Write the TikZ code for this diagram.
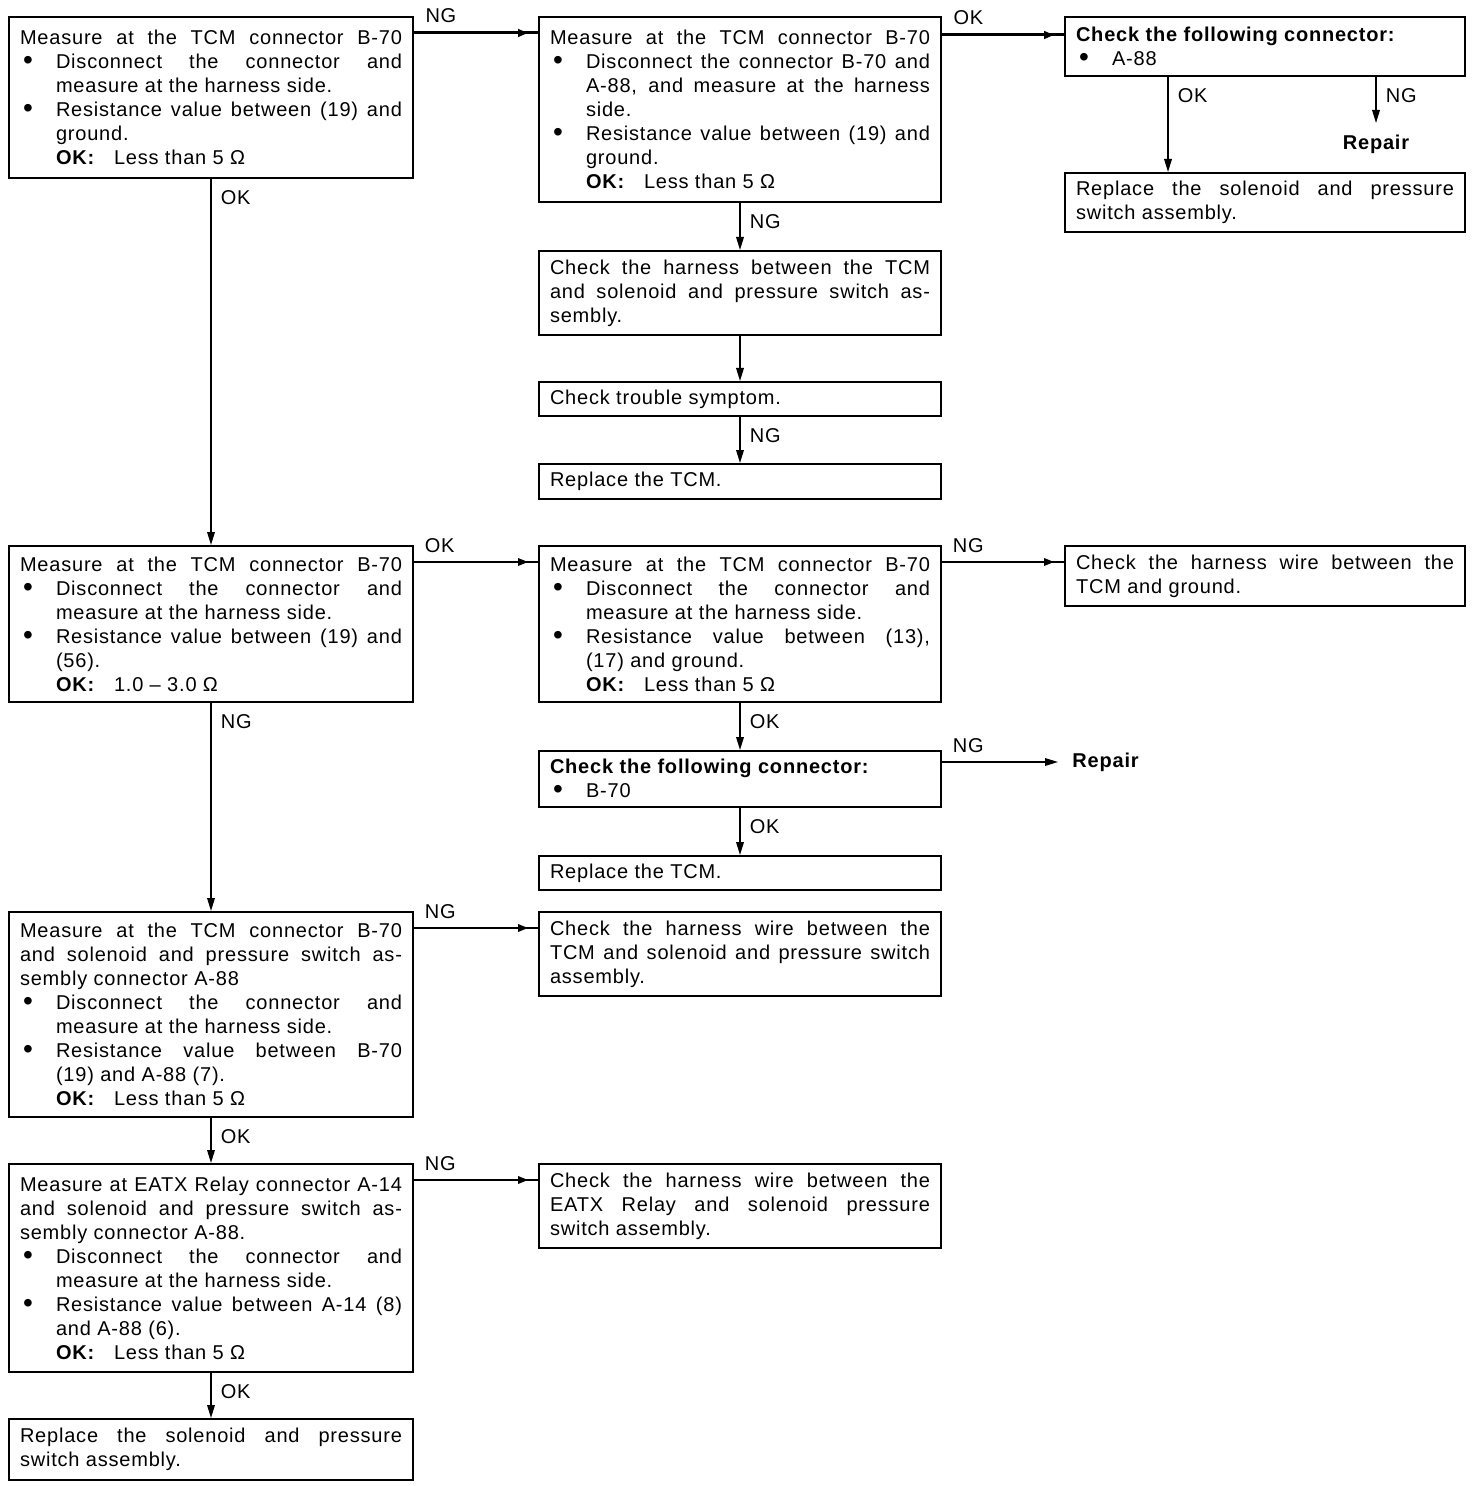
\documentclass[tikz,border=0pt]{standalone}
\usepackage{fontspec}
\setmainfont{Liberation Sans}[LetterSpace=4]
\usetikzlibrary{arrows.meta,decorations.markings}
% line helpers for the box texts
\newcommand{\full}[1]{\makebox[\hsize][s]{#1}}
\newcommand{\dotitem}{\makebox[18pt][l]{\hspace{1.5pt}\raisebox{-0.6pt}{\fontsize{14}{12}\selectfont\textbullet}}}
\newcommand{\hang}{\hspace*{18pt}}
\newcommand{\dotfull}[1]{\dotitem\makebox[\dimexpr\hsize-18pt\relax][s]{#1}}
\newcommand{\hangfull}[1]{\hang\makebox[\dimexpr\hsize-18pt\relax][s]{#1}}
\newcommand{\okval}[1]{\hang\makebox[29pt][l]{\textbf{OK:}}#1}

\begin{document}
\begin{tikzpicture}[x=0.5pt,y=-0.5pt,
  box/.style={draw,line width=1pt,anchor=north west,inner xsep=5.5pt,inner ysep=0pt,align=justify,font=\fontsize{10}{12}\selectfont},
  leftcol/.style={box,text width=191pt},
  midcol/.style={box,text width=190pt},
  rightcol/.style={box,text width=189pt},
  flow/.style={line width=0.8pt,-{Triangle[length=6.5pt,width=3.8pt]}},
  flowmid/.style={line width=#1,postaction={decorate},
    decoration={markings,mark=at position -5pt with {\arrow{Triangle[length=5pt,width=3.8pt]}}}},
  flowmid/.default=0.8pt,
  tag/.style={font=\fontsize{10}{12}\selectfont,inner sep=0pt},
  htag/.style={tag,pos=0,anchor=base west,xshift=5pt,yshift=5pt},
  vtag/.style={tag,pos=0,anchor=north west,xshift=4.5pt,yshift=-5.5pt}
]
  \useasboundingbox (0,0) rectangle (1472,1486);

  % left column
  \node[leftcol,minimum height=80.5pt] (groundchk) at (8,16) {%
    \full{Measure at the TCM connector B-70}\\
    \dotfull{Disconnect the connector and}\\
    \hang measure at the harness side.\\
    \dotfull{Resistance value between (19) and}\\
    \hang ground.\\
    \okval{Less than 5 Ω}};
  \node[leftcol,minimum height=78pt] (coilres) at (8,545) {%
    \full{Measure at the TCM connector B-70}\\
    \dotfull{Disconnect the connector and}\\
    \hang measure at the harness side.\\
    \dotfull{Resistance value between (19) and}\\
    \hang (56).\\
    \okval{1.0 – 3.0 Ω}};
  \node[leftcol,minimum height=102.5pt] (harnessres) at (8,911) {%
    \full{Measure at the TCM connector B-70}\\
    \full{and solenoid and pressure switch as-}\\
    sembly connector A-88\\
    \dotfull{Disconnect the connector and}\\
    \hang measure at the harness side.\\
    \dotfull{Resistance value between B-70}\\
    \hang (19) and A-88 (7).\\
    \okval{Less than 5 Ω}};
  \node[leftcol,minimum height=104pt] (relayres) at (8,1163) {%
    \full{Measure at EATX Relay connector A-14}\\
    \full{and solenoid and pressure switch as-}\\
    sembly connector A-88.\\
    \dotfull{Disconnect the connector and}\\
    \hang measure at the harness side.\\
    \dotfull{Resistance value between A-14 (8)}\\
    \hang and A-88 (6).\\
    \okval{Less than 5 Ω}};
  \node[leftcol,minimum height=30.5pt] (replsw2) at (8,1418) {%
    \full{Replace the solenoid and pressure}\\
    switch assembly.};

  % middle column
  \node[midcol,minimum height=92.5pt] (connchk) at (538,16) {%
    \full{Measure at the TCM connector B-70}\\
    \dotfull{Disconnect the connector B-70 and}\\
    \hangfull{A-88, and measure at the harness}\\
    \hang side.\\
    \dotfull{Resistance value between (19) and}\\
    \hang ground.\\
    \okval{Less than 5 Ω}};
  \node[midcol,minimum height=42pt] (harness1) at (538,250) {%
    \full{Check the harness between the TCM}\\
    \full{and solenoid and pressure switch as-}\\
    sembly.};
  \node[midcol,minimum height=17pt] (symptom) at (538,381) {Check trouble symptom.};
  \node[midcol,minimum height=17.5pt] (repltcm1) at (538,463) {Replace the TCM.};
  \node[midcol,minimum height=78pt] (gnd1317) at (538,545) {%
    \full{Measure at the TCM connector B-70}\\
    \dotfull{Disconnect the connector and}\\
    \hang measure at the harness side.\\
    \dotfull{Resistance value between (13),}\\
    \hang (17) and ground.\\
    \okval{Less than 5 Ω}};
  \node[midcol,minimum height=28pt] (b70chk) at (538,750) {%
    \textbf{Check the following connector:}\\
    \dotitem B-70};
  \node[midcol,minimum height=17pt] (repltcm2) at (538,855) {Replace the TCM.};
  \node[midcol,minimum height=42pt] (wiresw) at (538,911) {%
    \full{Check the harness wire between the}\\
    \full{TCM and solenoid and pressure switch}\\
    assembly.};
  \node[midcol,minimum height=42pt] (wirerelay) at (538,1163) {%
    \full{Check the harness wire between the}\\
    \full{EATX Relay and solenoid pressure}\\
    switch assembly.};

  % right column
  \node[rightcol,minimum height=29.5pt] (a88chk) at (1064,16) {%
    \textbf{Check the following connector:}\\
    \dotitem A-88};
  \node[rightcol,minimum height=29.5pt] (replsw1) at (1064,172) {%
    \full{Replace the solenoid and pressure}\\
    switch assembly.};
  \node[rightcol,minimum height=30pt] (wiregnd) at (1064,545) {%
    \full{Check the harness wire between the}\\
    TCM and ground.};
  \node[tag,font=\fontsize{10}{12}\selectfont\bfseries,anchor=north,inner ysep=6pt] (repair1) at (1376,123) {Repair};
  \node[tag,font=\fontsize{10}{12}\selectfont\bfseries,anchor=west,inner xsep=7pt] (repair2) at (1058,762) {Repair};

  % connectors
  \draw[flowmid=1.5pt] ([yshift=-8.5pt]groundchk.north east) -- ([yshift=-8.5pt]groundchk.north east -| connchk.west) node[htag] {NG};
  \draw[flowmid=1.5pt] ([yshift=-9.5pt]connchk.north east) -- ([yshift=-9.5pt]connchk.north east -| a88chk.west) node[htag] {OK};
  \draw[flow] ([xshift=52pt]a88chk.south west) -- ([xshift=52pt]replsw1.north west) node[vtag] {OK};
  \draw[flow] ([xshift=156pt]a88chk.south west) -- (repair1.north) node[vtag] {NG};
  \draw[flow] (connchk.south) -- (harness1.north) node[vtag] {NG};
  \draw[flow] (harness1.south) -- (symptom.north);
  \draw[flow] (symptom.south) -- (repltcm1.north) node[vtag] {NG};
  \draw[flow] (groundchk.south) -- (coilres.north) node[vtag] {OK};
  \draw[flowmid] ([yshift=-8.5pt]coilres.north east) -- ([yshift=-8.5pt]coilres.north east -| gnd1317.west) node[htag] {OK};
  \draw[flowmid] ([yshift=-8.5pt]gnd1317.north east) -- ([yshift=-8.5pt]gnd1317.north east -| wiregnd.west) node[htag] {NG};
  \draw[flow] (gnd1317.south) -- (b70chk.north) node[vtag] {OK};
  \draw[flow] ([yshift=-6pt]b70chk.north east) -- (repair2.west) node[htag] {NG};
  \draw[flow] (b70chk.south) -- (repltcm2.north) node[vtag] {OK};
  \draw[flow] (coilres.south) -- (harnessres.north) node[vtag] {NG};
  \draw[flowmid] ([yshift=-8.5pt]harnessres.north east) -- ([yshift=-8.5pt]harnessres.north east -| wiresw.west) node[htag] {NG};
  \draw[flow] (harnessres.south) -- (relayres.north) node[vtag] {OK};
  \draw[flowmid] ([yshift=-8.5pt]relayres.north east) -- ([yshift=-8.5pt]relayres.north east -| wirerelay.west) node[htag] {NG};
  \draw[flow] (relayres.south) -- (replsw2.north) node[vtag] {OK};
\end{tikzpicture}
\end{document}
